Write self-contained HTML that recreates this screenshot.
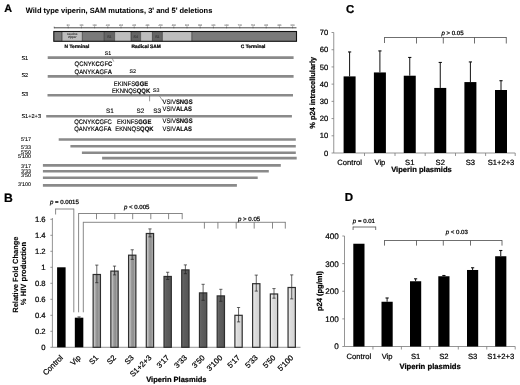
<!DOCTYPE html>
<html><head><meta charset="utf-8"><style>
html,body{margin:0;padding:0;background:#fff;width:520px;height:385px;overflow:hidden}
svg{display:block;will-change:transform;filter:blur(0.3px)}
text{font-family:"Liberation Sans", sans-serif;stroke:#000;stroke-width:0.22px;paint-order:stroke;text-rendering:geometricPrecision}
</style></head><body>
<svg width="520" height="385" viewBox="0 0 520 385">
<rect width="520" height="385" fill="#fff"/>
<text x="4.30" y="12.20" font-size="10.8" font-weight="bold" text-anchor="start" fill="#000" >A</text>
<text x="4.00" y="201.80" font-size="12.2" font-weight="bold" text-anchor="start" fill="#000" >B</text>
<text x="345.90" y="12.60" font-size="11.4" font-weight="bold" text-anchor="start" fill="#000" >C</text>
<text x="344.70" y="201.20" font-size="11.5" font-weight="bold" text-anchor="start" fill="#000" >D</text>
<text x="25.80" y="13.10" font-size="7.48" font-weight="bold" text-anchor="start" fill="#000" style="stroke-width:0.05px" >Wild type viperin, SAM mutations, 3' and 5' deletions</text>
<line x1="54.00" y1="27.80" x2="296.50" y2="27.80" stroke="#333" stroke-width="0.9"/>
<line x1="68.20" y1="26.40" x2="68.20" y2="28.30" stroke="#444" stroke-width="0.6"/>
<text x="68.20" y="25.80" font-size="2.4" font-weight="normal" text-anchor="middle" fill="#888" style="stroke:#888;stroke-width:0.1px" >50</text>
<line x1="81.40" y1="26.40" x2="81.40" y2="28.30" stroke="#444" stroke-width="0.6"/>
<text x="81.40" y="25.80" font-size="2.4" font-weight="normal" text-anchor="middle" fill="#888" style="stroke:#888;stroke-width:0.1px" >100</text>
<line x1="94.60" y1="26.40" x2="94.60" y2="28.30" stroke="#444" stroke-width="0.6"/>
<text x="94.60" y="25.80" font-size="2.4" font-weight="normal" text-anchor="middle" fill="#888" style="stroke:#888;stroke-width:0.1px" >150</text>
<line x1="107.80" y1="26.40" x2="107.80" y2="28.30" stroke="#444" stroke-width="0.6"/>
<text x="107.80" y="25.80" font-size="2.4" font-weight="normal" text-anchor="middle" fill="#888" style="stroke:#888;stroke-width:0.1px" >200</text>
<line x1="121.00" y1="26.40" x2="121.00" y2="28.30" stroke="#444" stroke-width="0.6"/>
<text x="121.00" y="25.80" font-size="2.4" font-weight="normal" text-anchor="middle" fill="#888" style="stroke:#888;stroke-width:0.1px" >250</text>
<line x1="134.20" y1="26.40" x2="134.20" y2="28.30" stroke="#444" stroke-width="0.6"/>
<text x="134.20" y="25.80" font-size="2.4" font-weight="normal" text-anchor="middle" fill="#888" style="stroke:#888;stroke-width:0.1px" >300</text>
<line x1="147.40" y1="26.40" x2="147.40" y2="28.30" stroke="#444" stroke-width="0.6"/>
<text x="147.40" y="25.80" font-size="2.4" font-weight="normal" text-anchor="middle" fill="#888" style="stroke:#888;stroke-width:0.1px" >350</text>
<line x1="160.60" y1="26.40" x2="160.60" y2="28.30" stroke="#444" stroke-width="0.6"/>
<text x="160.60" y="25.80" font-size="2.4" font-weight="normal" text-anchor="middle" fill="#888" style="stroke:#888;stroke-width:0.1px" >400</text>
<line x1="173.80" y1="26.40" x2="173.80" y2="28.30" stroke="#444" stroke-width="0.6"/>
<text x="173.80" y="25.80" font-size="2.4" font-weight="normal" text-anchor="middle" fill="#888" style="stroke:#888;stroke-width:0.1px" >450</text>
<line x1="187.00" y1="26.40" x2="187.00" y2="28.30" stroke="#444" stroke-width="0.6"/>
<text x="187.00" y="25.80" font-size="2.4" font-weight="normal" text-anchor="middle" fill="#888" style="stroke:#888;stroke-width:0.1px" >500</text>
<line x1="200.20" y1="26.40" x2="200.20" y2="28.30" stroke="#444" stroke-width="0.6"/>
<text x="200.20" y="25.80" font-size="2.4" font-weight="normal" text-anchor="middle" fill="#888" style="stroke:#888;stroke-width:0.1px" >550</text>
<line x1="213.40" y1="26.40" x2="213.40" y2="28.30" stroke="#444" stroke-width="0.6"/>
<text x="213.40" y="25.80" font-size="2.4" font-weight="normal" text-anchor="middle" fill="#888" style="stroke:#888;stroke-width:0.1px" >600</text>
<line x1="226.60" y1="26.40" x2="226.60" y2="28.30" stroke="#444" stroke-width="0.6"/>
<text x="226.60" y="25.80" font-size="2.4" font-weight="normal" text-anchor="middle" fill="#888" style="stroke:#888;stroke-width:0.1px" >650</text>
<line x1="239.80" y1="26.40" x2="239.80" y2="28.30" stroke="#444" stroke-width="0.6"/>
<text x="239.80" y="25.80" font-size="2.4" font-weight="normal" text-anchor="middle" fill="#888" style="stroke:#888;stroke-width:0.1px" >700</text>
<line x1="253.00" y1="26.40" x2="253.00" y2="28.30" stroke="#444" stroke-width="0.6"/>
<text x="253.00" y="25.80" font-size="2.4" font-weight="normal" text-anchor="middle" fill="#888" style="stroke:#888;stroke-width:0.1px" >750</text>
<line x1="266.20" y1="26.40" x2="266.20" y2="28.30" stroke="#444" stroke-width="0.6"/>
<text x="266.20" y="25.80" font-size="2.4" font-weight="normal" text-anchor="middle" fill="#888" style="stroke:#888;stroke-width:0.1px" >800</text>
<line x1="279.40" y1="26.40" x2="279.40" y2="28.30" stroke="#444" stroke-width="0.6"/>
<text x="279.40" y="25.80" font-size="2.4" font-weight="normal" text-anchor="middle" fill="#888" style="stroke:#888;stroke-width:0.1px" >850</text>
<line x1="292.60" y1="26.40" x2="292.60" y2="28.30" stroke="#444" stroke-width="0.6"/>
<text x="292.60" y="25.80" font-size="2.4" font-weight="normal" text-anchor="middle" fill="#888" style="stroke:#888;stroke-width:0.1px" >900</text>
<line x1="54.20" y1="26.60" x2="54.20" y2="28.30" stroke="#444" stroke-width="0.6"/>
<rect x="53.80" y="31.50" width="8.20" height="9.80" fill="#7a7a7a" stroke="none" stroke-width="0" />
<rect x="62.00" y="31.50" width="20.30" height="9.80" fill="#bdbdbd" stroke="none" stroke-width="0" />
<rect x="82.30" y="31.50" width="21.90" height="9.80" fill="#7a7a7a" stroke="none" stroke-width="0" />
<rect x="104.20" y="31.50" width="10.40" height="9.80" fill="#666666" stroke="none" stroke-width="0" />
<rect x="114.60" y="31.50" width="16.40" height="9.80" fill="#bdbdbd" stroke="none" stroke-width="0" />
<rect x="131.00" y="31.50" width="9.60" height="9.80" fill="#666666" stroke="none" stroke-width="0" />
<rect x="140.60" y="31.50" width="11.80" height="9.80" fill="#bdbdbd" stroke="none" stroke-width="0" />
<rect x="152.40" y="31.50" width="10.00" height="9.80" fill="#666666" stroke="none" stroke-width="0" />
<rect x="162.40" y="31.50" width="29.40" height="9.80" fill="#bdbdbd" stroke="none" stroke-width="0" />
<rect x="191.80" y="31.50" width="104.70" height="9.80" fill="#7a7a7a" stroke="none" stroke-width="0" />
<line x1="62.00" y1="31.50" x2="62.00" y2="41.30" stroke="#222" stroke-width="0.6"/>
<line x1="82.30" y1="31.50" x2="82.30" y2="41.30" stroke="#222" stroke-width="0.6"/>
<line x1="104.20" y1="31.50" x2="104.20" y2="41.30" stroke="#222" stroke-width="0.6"/>
<line x1="114.60" y1="31.50" x2="114.60" y2="41.30" stroke="#222" stroke-width="0.6"/>
<line x1="131.00" y1="31.50" x2="131.00" y2="41.30" stroke="#222" stroke-width="0.6"/>
<line x1="140.60" y1="31.50" x2="140.60" y2="41.30" stroke="#222" stroke-width="0.6"/>
<line x1="152.40" y1="31.50" x2="152.40" y2="41.30" stroke="#222" stroke-width="0.6"/>
<line x1="162.40" y1="31.50" x2="162.40" y2="41.30" stroke="#222" stroke-width="0.6"/>
<line x1="191.80" y1="31.50" x2="191.80" y2="41.30" stroke="#222" stroke-width="0.6"/>
<rect x="53.80" y="31.50" width="242.70" height="9.80" fill="none" stroke="#111" stroke-width="1.1" />
<text x="72.20" y="35.40" font-size="3.0" font-weight="normal" text-anchor="middle" fill="#333" style="stroke:#333;stroke-width:0.1px" >Leucine</text>
<text x="72.20" y="38.20" font-size="3.0" font-weight="normal" text-anchor="middle" fill="#333" style="stroke:#333;stroke-width:0.1px" >Zipper</text>
<text x="109.40" y="37.60" font-size="3.6" font-weight="normal" text-anchor="middle" fill="#333" style="stroke:#333;stroke-width:0.1px" >S1</text>
<text x="135.80" y="37.60" font-size="3.6" font-weight="normal" text-anchor="middle" fill="#333" style="stroke:#333;stroke-width:0.1px" >S4</text>
<text x="157.40" y="37.60" font-size="3.6" font-weight="normal" text-anchor="middle" fill="#333" style="stroke:#333;stroke-width:0.1px" >S1</text>
<text x="64.60" y="47.60" font-size="4.85" font-weight="bold" text-anchor="start" fill="#000" style="stroke-width:0.22px" >N Terminal</text>
<text x="131.50" y="47.60" font-size="4.85" font-weight="bold" text-anchor="start" fill="#000" style="stroke-width:0.22px" >Radical SAM</text>
<text x="240.80" y="48.30" font-size="4.85" font-weight="bold" text-anchor="start" fill="#000" style="stroke-width:0.22px" >C Terminal</text>
<text x="21.40" y="59.90" font-size="5.6" font-weight="normal" text-anchor="start" fill="#000" style="stroke-width:0.1px" >S1</text>
<line x1="47.70" y1="57.60" x2="293.60" y2="57.60" stroke="#8a8a8a" stroke-width="2.6"/>
<text x="21.40" y="77.40" font-size="5.6" font-weight="normal" text-anchor="start" fill="#000" style="stroke-width:0.1px" >S2</text>
<line x1="47.70" y1="76.40" x2="293.60" y2="76.40" stroke="#8a8a8a" stroke-width="2.6"/>
<text x="21.40" y="96.00" font-size="5.6" font-weight="normal" text-anchor="start" fill="#000" style="stroke-width:0.1px" >S3</text>
<line x1="47.50" y1="95.20" x2="293.00" y2="95.20" stroke="#8a8a8a" stroke-width="2.6"/>
<text x="21.40" y="117.50" font-size="5.6" font-weight="normal" text-anchor="start" fill="#000" style="stroke-width:0.1px" >S1+2+3</text>
<line x1="46.20" y1="116.30" x2="291.90" y2="116.30" stroke="#8a8a8a" stroke-width="2.6"/>
<text x="107.90" y="54.90" font-size="5.3" font-weight="normal" text-anchor="middle" fill="#000" style="stroke-width:0.1px" >S1</text>
<text x="0" y="0" transform="translate(74.60 66.40) scale(1 1.12)" font-size="5.9" style="stroke-width:0.12px"><tspan font-weight="normal">QCNYK</tspan><tspan font-weight="bold">C</tspan><tspan font-weight="normal">GF</tspan><tspan font-weight="bold">C</tspan></text>
<text x="0" y="0" transform="translate(74.60 73.80) scale(1 1.12)" font-size="5.9" style="stroke-width:0.12px"><tspan font-weight="normal">QANYK</tspan><tspan font-weight="bold">A</tspan><tspan font-weight="normal">GF</tspan><tspan font-weight="bold">A</tspan></text>
<path d="M112.2 58.5 L113.8 61.6" stroke="#444" stroke-width="0.5" fill="none"/>
<text x="132.80" y="72.90" font-size="5.3" font-weight="normal" text-anchor="middle" fill="#000" style="stroke-width:0.1px" >S2</text>
<text x="0" y="0" transform="translate(113.80 85.80) scale(1 1.12)" font-size="5.9" style="stroke-width:0.12px"><tspan font-weight="normal">EKINFS</tspan><tspan font-weight="bold">GGE</tspan></text>
<text x="0" y="0" transform="translate(111.90 92.50) scale(1 1.12)" font-size="5.9" style="stroke-width:0.12px"><tspan font-weight="normal">EKNNQ</tspan><tspan font-weight="normal">S</tspan><tspan font-weight="bold">QQK</tspan></text>
<text x="156.30" y="92.30" font-size="5.3" font-weight="normal" text-anchor="middle" fill="#000" style="stroke-width:0.1px" >S3</text>
<line x1="149.60" y1="95.50" x2="149.60" y2="101.30" stroke="#555" stroke-width="0.6"/>
<path d="M159.6 96.2 L163.3 101.6" stroke="#444" stroke-width="0.5" fill="none"/>
<text x="0" y="0" transform="translate(162.50 104.10) scale(1 1.12)" font-size="5.9" style="stroke-width:0.12px"><tspan font-weight="normal">VSIV</tspan><tspan font-weight="bold">SNGS</tspan></text>
<text x="0" y="0" transform="translate(162.50 111.20) scale(1 1.12)" font-size="5.9" style="stroke-width:0.12px"><tspan font-weight="normal">VSIV</tspan><tspan font-weight="bold">ALAS</tspan></text>
<text x="109.80" y="112.60" font-size="6.4" font-weight="normal" text-anchor="middle" fill="#000" style="stroke-width:0.1px" >S1</text>
<text x="140.40" y="112.60" font-size="6.4" font-weight="normal" text-anchor="middle" fill="#000" style="stroke-width:0.1px" >S2</text>
<text x="157.20" y="112.60" font-size="6.4" font-weight="normal" text-anchor="middle" fill="#000" style="stroke-width:0.1px" >S3</text>
<text x="0" y="0" transform="translate(74.20 124.00) scale(1 1.12)" font-size="5.9" style="stroke-width:0.12px"><tspan font-weight="normal">QCNYK</tspan><tspan font-weight="bold">C</tspan><tspan font-weight="normal">GFC</tspan></text>
<text x="0" y="0" transform="translate(117.00 124.00) scale(1 1.12)" font-size="5.9" style="stroke-width:0.12px"><tspan font-weight="normal">EKINFS</tspan><tspan font-weight="bold">GGE</tspan></text>
<text x="0" y="0" transform="translate(74.20 131.20) scale(1 1.12)" font-size="5.9" style="stroke-width:0.12px"><tspan font-weight="normal">QANYK</tspan><tspan font-weight="bold">A</tspan><tspan font-weight="normal">GF</tspan><tspan font-weight="bold">A</tspan></text>
<text x="0" y="0" transform="translate(115.20 131.20) scale(1 1.12)" font-size="5.9" style="stroke-width:0.12px"><tspan font-weight="normal">EKNNQ</tspan><tspan font-weight="normal">S</tspan><tspan font-weight="bold">QQK</tspan></text>
<text x="0" y="0" transform="translate(162.50 123.40) scale(1 1.12)" font-size="5.9" style="stroke-width:0.12px"><tspan font-weight="normal">VSIV</tspan><tspan font-weight="bold">SNGS</tspan></text>
<text x="0" y="0" transform="translate(162.50 131.40) scale(1 1.12)" font-size="5.9" style="stroke-width:0.12px"><tspan font-weight="normal">VSIV</tspan><tspan font-weight="bold">ALAS</tspan></text>
<text x="31.00" y="141.30" font-size="5.4" font-weight="normal" text-anchor="end" fill="#000" style="stroke-width:0.1px" >5'17</text>
<line x1="58.70" y1="139.50" x2="295.80" y2="139.50" stroke="#8a8a8a" stroke-width="2.6"/>
<text x="31.00" y="149.10" font-size="5.4" font-weight="normal" text-anchor="end" fill="#000" style="stroke-width:0.1px" >5'33</text>
<line x1="70.40" y1="146.20" x2="295.80" y2="146.20" stroke="#8a8a8a" stroke-width="2.6"/>
<text x="31.00" y="154.10" font-size="5.4" font-weight="normal" text-anchor="end" fill="#000" style="stroke-width:0.1px" >5'50</text>
<line x1="81.90" y1="152.70" x2="295.80" y2="152.70" stroke="#8a8a8a" stroke-width="2.6"/>
<text x="31.00" y="158.40" font-size="5.4" font-weight="normal" text-anchor="end" fill="#000" style="stroke-width:0.1px" >5'100</text>
<line x1="102.10" y1="158.10" x2="296.70" y2="158.10" stroke="#8a8a8a" stroke-width="2.6"/>
<text x="31.00" y="167.50" font-size="5.4" font-weight="normal" text-anchor="end" fill="#000" style="stroke-width:0.1px" >3'17</text>
<line x1="42.90" y1="165.40" x2="280.80" y2="165.40" stroke="#8a8a8a" stroke-width="2.6"/>
<text x="31.00" y="172.50" font-size="5.4" font-weight="normal" text-anchor="end" fill="#000" style="stroke-width:0.1px" >3'33</text>
<line x1="42.90" y1="171.30" x2="268.80" y2="171.30" stroke="#8a8a8a" stroke-width="2.6"/>
<text x="31.00" y="177.40" font-size="5.4" font-weight="normal" text-anchor="end" fill="#000" style="stroke-width:0.1px" >3'50</text>
<line x1="42.90" y1="177.70" x2="257.70" y2="177.70" stroke="#8a8a8a" stroke-width="2.6"/>
<text x="31.00" y="185.70" font-size="5.4" font-weight="normal" text-anchor="end" fill="#000" style="stroke-width:0.1px" >3'100</text>
<line x1="42.90" y1="185.40" x2="236.90" y2="185.40" stroke="#8a8a8a" stroke-width="2.6"/>
<line x1="52.40" y1="218.00" x2="52.40" y2="347.30" stroke="#7a7a7a" stroke-width="0.8"/>
<line x1="52.40" y1="347.30" x2="300.50" y2="347.30" stroke="#7a7a7a" stroke-width="0.8"/>
<line x1="50.40" y1="347.30" x2="52.40" y2="347.30" stroke="#7a7a7a" stroke-width="0.8"/>
<text x="45.60" y="350.10" font-size="7.7" font-weight="normal" text-anchor="end" fill="#000" >0</text>
<line x1="50.40" y1="331.30" x2="52.40" y2="331.30" stroke="#7a7a7a" stroke-width="0.8"/>
<text x="45.60" y="334.10" font-size="7.7" font-weight="normal" text-anchor="end" fill="#000" >0.2</text>
<line x1="50.40" y1="315.30" x2="52.40" y2="315.30" stroke="#7a7a7a" stroke-width="0.8"/>
<text x="45.60" y="318.10" font-size="7.7" font-weight="normal" text-anchor="end" fill="#000" >0.4</text>
<line x1="50.40" y1="299.30" x2="52.40" y2="299.30" stroke="#7a7a7a" stroke-width="0.8"/>
<text x="45.60" y="302.10" font-size="7.7" font-weight="normal" text-anchor="end" fill="#000" >0.6</text>
<line x1="50.40" y1="283.30" x2="52.40" y2="283.30" stroke="#7a7a7a" stroke-width="0.8"/>
<text x="45.60" y="286.10" font-size="7.7" font-weight="normal" text-anchor="end" fill="#000" >0.8</text>
<line x1="50.40" y1="267.30" x2="52.40" y2="267.30" stroke="#7a7a7a" stroke-width="0.8"/>
<text x="45.60" y="270.10" font-size="7.7" font-weight="normal" text-anchor="end" fill="#000" >1</text>
<line x1="50.40" y1="251.30" x2="52.40" y2="251.30" stroke="#7a7a7a" stroke-width="0.8"/>
<text x="45.60" y="254.10" font-size="7.7" font-weight="normal" text-anchor="end" fill="#000" >1.2</text>
<line x1="50.40" y1="235.30" x2="52.40" y2="235.30" stroke="#7a7a7a" stroke-width="0.8"/>
<text x="45.60" y="238.10" font-size="7.7" font-weight="normal" text-anchor="end" fill="#000" >1.4</text>
<line x1="50.40" y1="219.30" x2="52.40" y2="219.30" stroke="#7a7a7a" stroke-width="0.8"/>
<text x="45.60" y="222.10" font-size="7.7" font-weight="normal" text-anchor="end" fill="#000" >1.6</text>
<defs>
<linearGradient id="gm" x1="0" x2="1" y1="0" y2="0">
 <stop offset="0" stop-color="#cfcfcf"/><stop offset="0.22" stop-color="#bdbdbd"/><stop offset="0.4" stop-color="#9a9a9a"/><stop offset="0.65" stop-color="#8e8e8e"/><stop offset="0.8" stop-color="#a8a8a8"/><stop offset="1" stop-color="#9a9a9a"/>
</linearGradient>
<linearGradient id="gd" x1="0" x2="1" y1="0" y2="0">
 <stop offset="0" stop-color="#727272"/><stop offset="0.3" stop-color="#5e5e5e"/><stop offset="1" stop-color="#555"/>
</linearGradient>
<linearGradient id="gl" x1="0" x2="1" y1="0" y2="0">
 <stop offset="0" stop-color="#f0f0f0"/><stop offset="0.35" stop-color="#dcdcdc"/><stop offset="1" stop-color="#d2d2d2"/>
</linearGradient>
</defs>
<rect x="57.10" y="267.30" width="8.50" height="80.00" fill="#000" stroke="none" stroke-width="0" />
<text x="63.45" y="358.30" font-size="7.7" text-anchor="end" transform="rotate(-45 63.45 358.30)">Control</text>
<rect x="74.82" y="317.70" width="8.50" height="29.60" fill="#000" stroke="none" stroke-width="0" />
<line x1="79.07" y1="316.90" x2="79.07" y2="318.50" stroke="#222" stroke-width="0.7"/>
<line x1="77.47" y1="316.90" x2="80.67" y2="316.90" stroke="#222" stroke-width="0.7"/>
<line x1="77.47" y1="318.50" x2="80.67" y2="318.50" stroke="#222" stroke-width="0.7"/>
<text x="81.17" y="358.30" font-size="7.7" text-anchor="end" transform="rotate(-45 81.17 358.30)">Vip</text>
<rect x="93.14" y="274.50" width="7.30" height="72.80" fill="url(#gm)" stroke="#2e2e2e" stroke-width="1.2" />
<line x1="96.79" y1="265.10" x2="96.79" y2="282.70" stroke="#222" stroke-width="0.7"/>
<line x1="95.19" y1="265.10" x2="98.39" y2="265.10" stroke="#222" stroke-width="0.7"/>
<line x1="95.19" y1="282.70" x2="98.39" y2="282.70" stroke="#222" stroke-width="0.7"/>
<text x="98.89" y="358.30" font-size="7.7" text-anchor="end" transform="rotate(-45 98.89 358.30)">S1</text>
<rect x="110.86" y="271.10" width="7.30" height="76.20" fill="url(#gm)" stroke="#2e2e2e" stroke-width="1.2" />
<line x1="114.51" y1="266.10" x2="114.51" y2="274.90" stroke="#222" stroke-width="0.7"/>
<line x1="112.91" y1="266.10" x2="116.11" y2="266.10" stroke="#222" stroke-width="0.7"/>
<line x1="112.91" y1="274.90" x2="116.11" y2="274.90" stroke="#222" stroke-width="0.7"/>
<text x="116.61" y="358.30" font-size="7.7" text-anchor="end" transform="rotate(-45 116.61 358.30)">S2</text>
<rect x="128.58" y="255.18" width="7.30" height="92.12" fill="url(#gm)" stroke="#2e2e2e" stroke-width="1.2" />
<line x1="132.23" y1="249.78" x2="132.23" y2="259.38" stroke="#222" stroke-width="0.7"/>
<line x1="130.63" y1="249.78" x2="133.83" y2="249.78" stroke="#222" stroke-width="0.7"/>
<line x1="130.63" y1="259.38" x2="133.83" y2="259.38" stroke="#222" stroke-width="0.7"/>
<text x="134.33" y="358.30" font-size="7.7" text-anchor="end" transform="rotate(-45 134.33 358.30)">S3</text>
<rect x="146.30" y="233.50" width="7.30" height="113.80" fill="url(#gm)" stroke="#2e2e2e" stroke-width="1.2" />
<line x1="149.95" y1="228.90" x2="149.95" y2="236.90" stroke="#222" stroke-width="0.7"/>
<line x1="148.35" y1="228.90" x2="151.55" y2="228.90" stroke="#222" stroke-width="0.7"/>
<line x1="148.35" y1="236.90" x2="151.55" y2="236.90" stroke="#222" stroke-width="0.7"/>
<text x="152.05" y="358.30" font-size="7.7" text-anchor="end" transform="rotate(-45 152.05 358.30)">S1+2+3</text>
<rect x="164.02" y="276.46" width="7.30" height="70.84" fill="url(#gd)" stroke="#2e2e2e" stroke-width="1.2" />
<line x1="167.67" y1="272.26" x2="167.67" y2="279.46" stroke="#222" stroke-width="0.7"/>
<line x1="166.07" y1="272.26" x2="169.27" y2="272.26" stroke="#222" stroke-width="0.7"/>
<line x1="166.07" y1="279.46" x2="169.27" y2="279.46" stroke="#222" stroke-width="0.7"/>
<text x="169.77" y="358.30" font-size="7.7" text-anchor="end" transform="rotate(-45 169.77 358.30)">3'17</text>
<rect x="181.74" y="269.90" width="7.30" height="77.40" fill="url(#gd)" stroke="#2e2e2e" stroke-width="1.2" />
<line x1="185.39" y1="264.90" x2="185.39" y2="273.70" stroke="#222" stroke-width="0.7"/>
<line x1="183.79" y1="264.90" x2="186.99" y2="264.90" stroke="#222" stroke-width="0.7"/>
<line x1="183.79" y1="273.70" x2="186.99" y2="273.70" stroke="#222" stroke-width="0.7"/>
<text x="187.49" y="358.30" font-size="7.7" text-anchor="end" transform="rotate(-45 187.49 358.30)">3'33</text>
<rect x="199.46" y="292.90" width="7.30" height="54.40" fill="url(#gd)" stroke="#2e2e2e" stroke-width="1.2" />
<line x1="203.11" y1="284.30" x2="203.11" y2="300.30" stroke="#222" stroke-width="0.7"/>
<line x1="201.51" y1="284.30" x2="204.71" y2="284.30" stroke="#222" stroke-width="0.7"/>
<line x1="201.51" y1="300.30" x2="204.71" y2="300.30" stroke="#222" stroke-width="0.7"/>
<text x="205.21" y="358.30" font-size="7.7" text-anchor="end" transform="rotate(-45 205.21 358.30)">3'50</text>
<rect x="217.18" y="295.90" width="7.30" height="51.40" fill="url(#gd)" stroke="#2e2e2e" stroke-width="1.2" />
<line x1="220.83" y1="289.30" x2="220.83" y2="301.30" stroke="#222" stroke-width="0.7"/>
<line x1="219.23" y1="289.30" x2="222.43" y2="289.30" stroke="#222" stroke-width="0.7"/>
<line x1="219.23" y1="301.30" x2="222.43" y2="301.30" stroke="#222" stroke-width="0.7"/>
<text x="222.93" y="358.30" font-size="7.7" text-anchor="end" transform="rotate(-45 222.93 358.30)">3'100</text>
<rect x="234.90" y="315.30" width="7.30" height="32.00" fill="url(#gl)" stroke="#2e2e2e" stroke-width="1.2" />
<line x1="238.55" y1="307.50" x2="238.55" y2="321.90" stroke="#222" stroke-width="0.7"/>
<line x1="236.95" y1="307.50" x2="240.15" y2="307.50" stroke="#222" stroke-width="0.7"/>
<line x1="236.95" y1="321.90" x2="240.15" y2="321.90" stroke="#222" stroke-width="0.7"/>
<text x="240.65" y="358.30" font-size="7.7" text-anchor="end" transform="rotate(-45 240.65 358.30)">5'17</text>
<rect x="252.62" y="283.70" width="7.30" height="63.60" fill="url(#gl)" stroke="#2e2e2e" stroke-width="1.2" />
<line x1="256.27" y1="275.10" x2="256.27" y2="291.10" stroke="#222" stroke-width="0.7"/>
<line x1="254.67" y1="275.10" x2="257.87" y2="275.10" stroke="#222" stroke-width="0.7"/>
<line x1="254.67" y1="291.10" x2="257.87" y2="291.10" stroke="#222" stroke-width="0.7"/>
<text x="258.37" y="358.30" font-size="7.7" text-anchor="end" transform="rotate(-45 258.37 358.30)">5'33</text>
<rect x="270.34" y="293.98" width="7.30" height="53.32" fill="url(#gl)" stroke="#2e2e2e" stroke-width="1.2" />
<line x1="273.99" y1="288.58" x2="273.99" y2="298.18" stroke="#222" stroke-width="0.7"/>
<line x1="272.39" y1="288.58" x2="275.59" y2="288.58" stroke="#222" stroke-width="0.7"/>
<line x1="272.39" y1="298.18" x2="275.59" y2="298.18" stroke="#222" stroke-width="0.7"/>
<text x="276.09" y="358.30" font-size="7.7" text-anchor="end" transform="rotate(-45 276.09 358.30)">5'50</text>
<rect x="288.06" y="287.50" width="7.30" height="59.80" fill="url(#gl)" stroke="#2e2e2e" stroke-width="1.2" />
<line x1="291.71" y1="274.90" x2="291.71" y2="298.90" stroke="#222" stroke-width="0.7"/>
<line x1="290.11" y1="274.90" x2="293.31" y2="274.90" stroke="#222" stroke-width="0.7"/>
<line x1="290.11" y1="298.90" x2="293.31" y2="298.90" stroke="#222" stroke-width="0.7"/>
<text x="293.81" y="358.30" font-size="7.7" text-anchor="end" transform="rotate(-45 293.81 358.30)">5'100</text>
<text x="176.40" y="381.90" font-size="7.5" font-weight="bold" text-anchor="middle" fill="#000" >Viperin Plasmids</text>
<text x="0" y="0" font-size="7.5" font-weight="bold" text-anchor="middle" style="stroke-width:0.12px" transform="translate(18.4 274.6) rotate(-90)">Relative Fold Change</text>
<text x="0" y="0" font-size="7.6" font-weight="bold" text-anchor="middle" style="stroke-width:0.12px" transform="translate(26.3 273.5) rotate(-90)">% HIV production</text>
<line x1="55.60" y1="209.00" x2="73.80" y2="209.00" stroke="#6a6a6a" stroke-width="0.8"/>
<line x1="55.60" y1="208.60" x2="55.60" y2="214.50" stroke="#6a6a6a" stroke-width="0.8"/>
<line x1="73.80" y1="208.60" x2="73.80" y2="312.30" stroke="#6a6a6a" stroke-width="0.8"/>
<text x="64.4" y="204.2" font-size="6.1" text-anchor="middle"><tspan font-style="italic">p</tspan> = 0.0015</text>
<line x1="78.60" y1="213.50" x2="182.20" y2="213.50" stroke="#6a6a6a" stroke-width="0.8"/>
<line x1="78.60" y1="213.10" x2="78.60" y2="312.30" stroke="#6a6a6a" stroke-width="0.8"/>
<line x1="96.50" y1="213.50" x2="96.50" y2="219.20" stroke="#6a6a6a" stroke-width="0.8"/>
<line x1="114.80" y1="213.50" x2="114.80" y2="219.20" stroke="#6a6a6a" stroke-width="0.8"/>
<line x1="132.70" y1="213.50" x2="132.70" y2="219.20" stroke="#6a6a6a" stroke-width="0.8"/>
<line x1="150.80" y1="213.50" x2="150.80" y2="219.20" stroke="#6a6a6a" stroke-width="0.8"/>
<line x1="168.60" y1="213.50" x2="168.60" y2="219.20" stroke="#6a6a6a" stroke-width="0.8"/>
<line x1="182.20" y1="213.10" x2="182.20" y2="219.20" stroke="#6a6a6a" stroke-width="0.8"/>
<text x="136.7" y="208.9" font-size="6.1" text-anchor="middle"><tspan font-style="italic">p</tspan> &lt; 0.005</text>
<line x1="83.30" y1="222.30" x2="285.30" y2="222.30" stroke="#6a6a6a" stroke-width="0.8"/>
<line x1="83.30" y1="221.90" x2="83.30" y2="312.30" stroke="#6a6a6a" stroke-width="0.8"/>
<line x1="204.40" y1="222.30" x2="204.40" y2="228.60" stroke="#6a6a6a" stroke-width="0.8"/>
<line x1="217.90" y1="222.30" x2="217.90" y2="228.60" stroke="#6a6a6a" stroke-width="0.8"/>
<line x1="236.20" y1="222.30" x2="236.20" y2="228.60" stroke="#6a6a6a" stroke-width="0.8"/>
<line x1="254.20" y1="222.30" x2="254.20" y2="228.60" stroke="#6a6a6a" stroke-width="0.8"/>
<line x1="272.50" y1="222.30" x2="272.50" y2="228.60" stroke="#6a6a6a" stroke-width="0.8"/>
<line x1="285.30" y1="221.90" x2="285.30" y2="228.60" stroke="#6a6a6a" stroke-width="0.8"/>
<text x="249.1" y="220.9" font-size="6.1" text-anchor="middle"><tspan font-style="italic">p</tspan> &gt; 0.05</text>
<line x1="333.75" y1="32.50" x2="333.75" y2="153.00" stroke="#7a7a7a" stroke-width="0.8"/>
<line x1="333.75" y1="153.00" x2="515.20" y2="153.00" stroke="#7a7a7a" stroke-width="0.8"/>
<line x1="331.55" y1="153.00" x2="333.75" y2="153.00" stroke="#7a7a7a" stroke-width="0.8"/>
<text x="328.30" y="155.70" font-size="7.6" font-weight="normal" text-anchor="end" fill="#000" >0</text>
<line x1="331.55" y1="135.79" x2="333.75" y2="135.79" stroke="#7a7a7a" stroke-width="0.8"/>
<text x="328.30" y="138.49" font-size="7.6" font-weight="normal" text-anchor="end" fill="#000" >10</text>
<line x1="331.55" y1="118.57" x2="333.75" y2="118.57" stroke="#7a7a7a" stroke-width="0.8"/>
<text x="328.30" y="121.27" font-size="7.6" font-weight="normal" text-anchor="end" fill="#000" >20</text>
<line x1="331.55" y1="101.36" x2="333.75" y2="101.36" stroke="#7a7a7a" stroke-width="0.8"/>
<text x="328.30" y="104.06" font-size="7.6" font-weight="normal" text-anchor="end" fill="#000" >30</text>
<line x1="331.55" y1="84.14" x2="333.75" y2="84.14" stroke="#7a7a7a" stroke-width="0.8"/>
<text x="328.30" y="86.84" font-size="7.6" font-weight="normal" text-anchor="end" fill="#000" >40</text>
<line x1="331.55" y1="66.93" x2="333.75" y2="66.93" stroke="#7a7a7a" stroke-width="0.8"/>
<text x="328.30" y="69.63" font-size="7.6" font-weight="normal" text-anchor="end" fill="#000" >50</text>
<line x1="331.55" y1="49.72" x2="333.75" y2="49.72" stroke="#7a7a7a" stroke-width="0.8"/>
<text x="328.30" y="52.42" font-size="7.6" font-weight="normal" text-anchor="end" fill="#000" >60</text>
<line x1="331.55" y1="32.50" x2="333.75" y2="32.50" stroke="#7a7a7a" stroke-width="0.8"/>
<text x="328.30" y="35.20" font-size="7.6" font-weight="normal" text-anchor="end" fill="#000" >70</text>
<line x1="364.50" y1="153.00" x2="364.50" y2="156.00" stroke="#7a7a7a" stroke-width="0.8"/>
<line x1="395.00" y1="153.00" x2="395.00" y2="156.00" stroke="#7a7a7a" stroke-width="0.8"/>
<line x1="425.20" y1="153.00" x2="425.20" y2="156.00" stroke="#7a7a7a" stroke-width="0.8"/>
<line x1="455.50" y1="153.00" x2="455.50" y2="156.00" stroke="#7a7a7a" stroke-width="0.8"/>
<line x1="485.60" y1="153.00" x2="485.60" y2="156.00" stroke="#7a7a7a" stroke-width="0.8"/>
<line x1="515.20" y1="153.00" x2="515.20" y2="156.00" stroke="#7a7a7a" stroke-width="0.8"/>
<rect x="343.60" y="76.40" width="12.00" height="76.60" fill="#000" stroke="none" stroke-width="0" />
<line x1="349.60" y1="76.40" x2="349.60" y2="51.95" stroke="#111" stroke-width="1.0"/>
<line x1="348.00" y1="51.95" x2="351.20" y2="51.95" stroke="#111" stroke-width="1.1"/>
<text x="349.60" y="164.70" font-size="7.6" font-weight="normal" text-anchor="middle" fill="#000" >Control</text>
<rect x="373.90" y="72.44" width="12.00" height="80.56" fill="#000" stroke="none" stroke-width="0" />
<line x1="379.90" y1="72.44" x2="379.90" y2="50.92" stroke="#111" stroke-width="1.0"/>
<line x1="378.30" y1="50.92" x2="381.50" y2="50.92" stroke="#111" stroke-width="1.1"/>
<text x="379.90" y="164.70" font-size="7.6" font-weight="normal" text-anchor="middle" fill="#000" >Vip</text>
<rect x="403.75" y="75.71" width="12.00" height="77.29" fill="#000" stroke="none" stroke-width="0" />
<line x1="409.75" y1="75.71" x2="409.75" y2="57.46" stroke="#111" stroke-width="1.0"/>
<line x1="408.15" y1="57.46" x2="411.35" y2="57.46" stroke="#111" stroke-width="1.1"/>
<text x="409.75" y="164.70" font-size="7.6" font-weight="normal" text-anchor="middle" fill="#000" >S1</text>
<rect x="434.25" y="87.93" width="12.00" height="65.07" fill="#000" stroke="none" stroke-width="0" />
<line x1="440.25" y1="87.93" x2="440.25" y2="62.45" stroke="#111" stroke-width="1.0"/>
<line x1="438.65" y1="62.45" x2="441.85" y2="62.45" stroke="#111" stroke-width="1.1"/>
<text x="440.25" y="164.70" font-size="7.6" font-weight="normal" text-anchor="middle" fill="#000" >S2</text>
<rect x="464.40" y="82.08" width="12.00" height="70.92" fill="#000" stroke="none" stroke-width="0" />
<line x1="470.40" y1="82.08" x2="470.40" y2="61.94" stroke="#111" stroke-width="1.0"/>
<line x1="468.80" y1="61.94" x2="472.00" y2="61.94" stroke="#111" stroke-width="1.1"/>
<text x="470.40" y="164.70" font-size="7.6" font-weight="normal" text-anchor="middle" fill="#000" >S3</text>
<rect x="495.00" y="90.00" width="12.00" height="63.00" fill="#000" stroke="none" stroke-width="0" />
<line x1="501.00" y1="90.00" x2="501.00" y2="80.70" stroke="#111" stroke-width="1.0"/>
<line x1="499.40" y1="80.70" x2="502.60" y2="80.70" stroke="#111" stroke-width="1.1"/>
<text x="501.00" y="164.70" font-size="7.6" font-weight="normal" text-anchor="middle" fill="#000" >S1+2+3</text>
<text x="421.50" y="171.60" font-size="7.6" font-weight="bold" text-anchor="middle" fill="#000" >Viperin plasmids</text>
<text x="0" y="0" font-size="7.45" font-weight="bold" text-anchor="middle" transform="translate(315.4 92.8) rotate(-90)">% p24 intracellularly</text>
<line x1="384.50" y1="37.50" x2="506.30" y2="37.50" stroke="#4a4a4a" stroke-width="0.8"/>
<line x1="384.50" y1="37.10" x2="384.50" y2="43.00" stroke="#4a4a4a" stroke-width="0.8"/>
<line x1="416.50" y1="37.50" x2="416.50" y2="43.50" stroke="#4a4a4a" stroke-width="0.8"/>
<line x1="443.30" y1="37.50" x2="443.30" y2="43.50" stroke="#4a4a4a" stroke-width="0.8"/>
<line x1="474.50" y1="37.50" x2="474.50" y2="43.50" stroke="#4a4a4a" stroke-width="0.8"/>
<line x1="506.30" y1="37.10" x2="506.30" y2="43.50" stroke="#4a4a4a" stroke-width="0.8"/>
<text x="452.5" y="35.4" font-size="6.1" text-anchor="middle"><tspan font-style="italic">p</tspan> &gt; 0.05</text>
<line x1="344.50" y1="236.00" x2="344.50" y2="346.50" stroke="#7a7a7a" stroke-width="0.8"/>
<line x1="344.50" y1="346.50" x2="515.20" y2="346.50" stroke="#7a7a7a" stroke-width="0.8"/>
<line x1="342.30" y1="346.50" x2="344.50" y2="346.50" stroke="#7a7a7a" stroke-width="0.8"/>
<text x="338.80" y="349.40" font-size="8.1" font-weight="normal" text-anchor="end" fill="#000" >0</text>
<line x1="342.30" y1="318.88" x2="344.50" y2="318.88" stroke="#7a7a7a" stroke-width="0.8"/>
<text x="338.80" y="321.77" font-size="8.1" font-weight="normal" text-anchor="end" fill="#000" >100</text>
<line x1="342.30" y1="291.25" x2="344.50" y2="291.25" stroke="#7a7a7a" stroke-width="0.8"/>
<text x="338.80" y="294.15" font-size="8.1" font-weight="normal" text-anchor="end" fill="#000" >200</text>
<line x1="342.30" y1="263.62" x2="344.50" y2="263.62" stroke="#7a7a7a" stroke-width="0.8"/>
<text x="338.80" y="266.52" font-size="8.1" font-weight="normal" text-anchor="end" fill="#000" >300</text>
<line x1="342.30" y1="236.00" x2="344.50" y2="236.00" stroke="#7a7a7a" stroke-width="0.8"/>
<text x="338.80" y="238.90" font-size="8.1" font-weight="normal" text-anchor="end" fill="#000" >400</text>
<line x1="372.95" y1="346.50" x2="372.95" y2="349.50" stroke="#7a7a7a" stroke-width="0.8"/>
<line x1="401.40" y1="346.50" x2="401.40" y2="349.50" stroke="#7a7a7a" stroke-width="0.8"/>
<line x1="429.85" y1="346.50" x2="429.85" y2="349.50" stroke="#7a7a7a" stroke-width="0.8"/>
<line x1="458.30" y1="346.50" x2="458.30" y2="349.50" stroke="#7a7a7a" stroke-width="0.8"/>
<line x1="486.75" y1="346.50" x2="486.75" y2="349.50" stroke="#7a7a7a" stroke-width="0.8"/>
<line x1="515.20" y1="346.50" x2="515.20" y2="349.50" stroke="#7a7a7a" stroke-width="0.8"/>
<rect x="353.30" y="243.74" width="11.20" height="102.76" fill="#000" stroke="none" stroke-width="0" />
<text x="358.90" y="359.20" font-size="7.65" font-weight="normal" text-anchor="middle" fill="#000" >Control</text>
<rect x="381.50" y="301.75" width="11.20" height="44.75" fill="#000" stroke="none" stroke-width="0" />
<line x1="387.10" y1="301.75" x2="387.10" y2="297.99" stroke="#111" stroke-width="1.0"/>
<line x1="385.50" y1="297.99" x2="388.70" y2="297.99" stroke="#111" stroke-width="1.1"/>
<text x="387.10" y="359.20" font-size="7.65" font-weight="normal" text-anchor="middle" fill="#000" >Vip</text>
<rect x="410.00" y="281.25" width="11.20" height="65.25" fill="#000" stroke="none" stroke-width="0" />
<line x1="415.60" y1="281.25" x2="415.60" y2="278.82" stroke="#111" stroke-width="1.0"/>
<line x1="414.00" y1="278.82" x2="417.20" y2="278.82" stroke="#111" stroke-width="1.1"/>
<text x="415.60" y="359.20" font-size="7.65" font-weight="normal" text-anchor="middle" fill="#000" >S1</text>
<rect x="438.30" y="276.25" width="11.20" height="70.25" fill="#000" stroke="none" stroke-width="0" />
<line x1="443.90" y1="276.25" x2="443.90" y2="275.50" stroke="#111" stroke-width="1.0"/>
<line x1="442.30" y1="275.50" x2="445.50" y2="275.50" stroke="#111" stroke-width="1.1"/>
<text x="443.90" y="359.20" font-size="7.65" font-weight="normal" text-anchor="middle" fill="#000" >S2</text>
<rect x="467.00" y="269.98" width="11.20" height="76.52" fill="#000" stroke="none" stroke-width="0" />
<line x1="472.60" y1="269.98" x2="472.60" y2="267.77" stroke="#111" stroke-width="1.0"/>
<line x1="471.00" y1="267.77" x2="474.20" y2="267.77" stroke="#111" stroke-width="1.1"/>
<text x="472.60" y="359.20" font-size="7.65" font-weight="normal" text-anchor="middle" fill="#000" >S3</text>
<rect x="495.15" y="256.25" width="11.20" height="90.25" fill="#000" stroke="none" stroke-width="0" />
<line x1="500.75" y1="256.25" x2="500.75" y2="250.50" stroke="#111" stroke-width="1.0"/>
<line x1="499.15" y1="250.50" x2="502.35" y2="250.50" stroke="#111" stroke-width="1.1"/>
<text x="500.75" y="359.20" font-size="7.65" font-weight="normal" text-anchor="middle" fill="#000" >S1+2+3</text>
<text x="430.10" y="369.00" font-size="7.7" font-weight="bold" text-anchor="middle" fill="#000" >Viperin plasmids</text>
<text x="0" y="0" font-size="7.5" font-weight="bold" text-anchor="middle" transform="translate(321.6 291) rotate(-90)">p24 (pg/ml)</text>
<line x1="353.10" y1="227.00" x2="375.70" y2="227.00" stroke="#4a4a4a" stroke-width="0.8"/>
<line x1="353.10" y1="226.60" x2="353.10" y2="230.00" stroke="#4a4a4a" stroke-width="0.8"/>
<line x1="375.70" y1="226.60" x2="375.70" y2="230.00" stroke="#4a4a4a" stroke-width="0.8"/>
<text x="363.9" y="222.7" font-size="6.1" text-anchor="middle"><tspan font-style="italic">p</tspan> = 0.01</text>
<line x1="384.50" y1="240.50" x2="502.00" y2="240.50" stroke="#4a4a4a" stroke-width="0.8"/>
<line x1="384.50" y1="240.10" x2="384.50" y2="245.60" stroke="#4a4a4a" stroke-width="0.8"/>
<line x1="416.50" y1="240.50" x2="416.50" y2="245.60" stroke="#4a4a4a" stroke-width="0.8"/>
<line x1="443.30" y1="240.50" x2="443.30" y2="245.60" stroke="#4a4a4a" stroke-width="0.8"/>
<line x1="470.50" y1="240.50" x2="470.50" y2="245.60" stroke="#4a4a4a" stroke-width="0.8"/>
<line x1="502.00" y1="240.10" x2="502.00" y2="245.60" stroke="#4a4a4a" stroke-width="0.8"/>
<text x="456.8" y="233.9" font-size="6.1" text-anchor="middle"><tspan font-style="italic">p</tspan> &lt; 0.03</text>
</svg>
</body></html>
